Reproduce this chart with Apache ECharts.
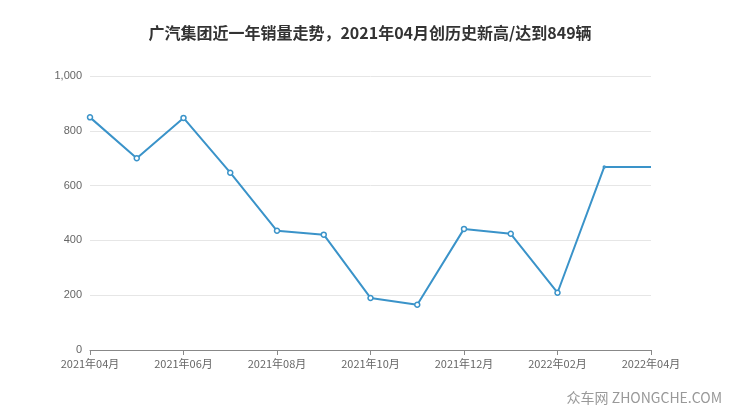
<!DOCTYPE html>
<html><head><meta charset="utf-8">
<script src="https://cdn.jsdelivr.net/npm/echarts@6/dist/echarts.min.js"></script>
<style>html,body{margin:0;padding:0;background:#fff}#c{width:740px;height:417px}</style>
</head><body><div id="c"></div>
<script>
const categories=['2021年04月','2021年05月','2021年06月','2021年07月','2021年08月','2021年09月','2021年10月','2021年11月','2021年12月','2022年01月','2022年02月','2022年03月','2022年04月'];
const sales=[849,700,847,647,435,421,190,165,442,424,209,668,668];
const chart=echarts.init(document.getElementById('c'));
chart.setOption({
  title:{text:'广汽集团近一年销量走势，2021年04月创历史新高/达到849辆',left:'center',top:20,textStyle:{fontSize:16,fontWeight:'bold',color:'#333',fontFamily:'Noto Sans CJK SC'}},
  grid:{left:90,right:89,top:76,bottom:67},
  xAxis:{type:'category',data:categories,boundaryGap:false,
    axisLine:{lineStyle:{color:'#888'}},axisTick:{interval:1,lineStyle:{color:'#888'}},
    axisLabel:{interval:1,color:'#666',fontSize:11,fontFamily:'Noto Sans CJK SC'}},
  yAxis:{type:'value',min:0,max:1000,interval:200,
    axisLabel:{color:'#666',fontSize:11,formatter:v=>v.toLocaleString('en-US')},
    splitLine:{lineStyle:{color:'#e6e6e6'}}},
  series:[{type:'line',data:sales.map((v,i)=>i===11?{value:v,symbolSize:2}:i===12?{value:v,symbol:'none'}:v),symbol:'circle',symbolSize:5,
    itemStyle:{color:'#fff',borderColor:'#3a93c9',borderWidth:1.5},
    lineStyle:{color:'#3a93c9',width:2}}],
  graphic:[{type:'text',right:18,bottom:12,style:{text:'众车网 ZHONGCHE.COM',fill:'#999',fontSize:14,fontFamily:'Noto Sans CJK SC'}}]
});
</script></body></html>
